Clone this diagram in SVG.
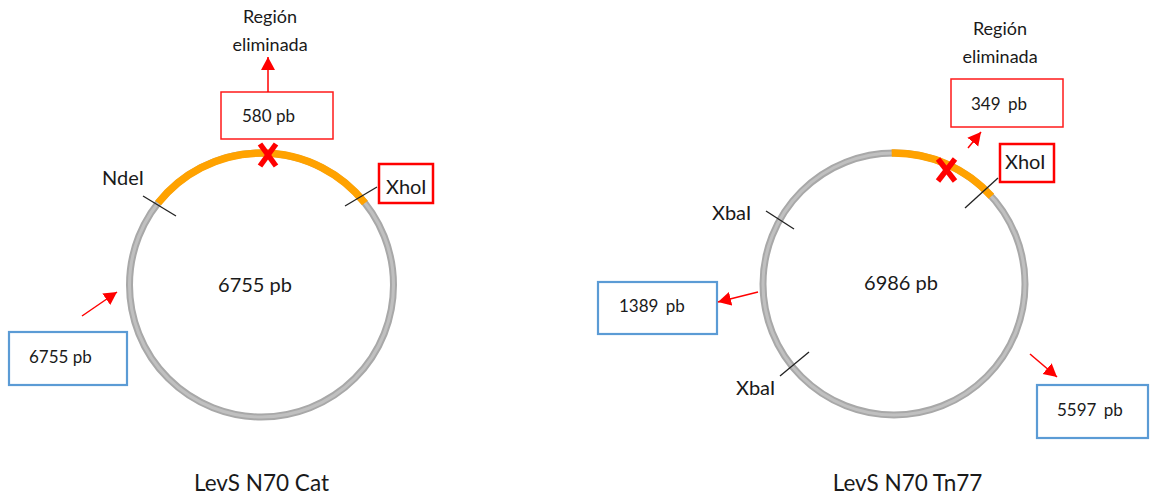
<svg xmlns="http://www.w3.org/2000/svg" width="1150" height="497" viewBox="0 0 1150 497">
<style>
text{font-family:Lato,"Liberation Sans",sans-serif;fill:#1a1a1a}
.ring{fill:none;stroke:#a8a8a8;stroke-width:7}
.ringhi{fill:none;stroke:#c0c0c0;stroke-width:3}
.orange{fill:none;stroke:#ffa200;stroke-width:7.5}
.tick{stroke:#222;stroke-width:1.3}
.cross{stroke:#ff0000;stroke-width:5.5;stroke-linecap:butt}
.rbox{fill:#fff;stroke:#ff1a1a;stroke-width:1.5}
.rbox2{fill:#fff;stroke:#ff0000;stroke-width:2.5}
.bbox{fill:#fff;stroke:#5b9bd5;stroke-width:2.2}
.arr{stroke:#ff0000;stroke-width:1.5;fill:none;marker-end:url(#ah)}
.lbl{font-size:17px}
.wide{word-spacing:3px}
.enz{font-size:20px}
.ctr{font-size:20px;text-anchor:middle}
.reg{font-size:18px;text-anchor:middle}
.ttl{font-size:22.5px;text-anchor:middle}
</style>
<defs>
<marker id="ah" markerUnits="userSpaceOnUse" markerWidth="16" markerHeight="16" refX="13" refY="7" orient="auto">
<path d="M0,0 L13,7 L0,14 Z" fill="#ff0000"/>
</marker>
</defs>
<g id="plasmid-cat">
<circle class="ring" cx="261.5" cy="285" r="132"/>
<circle class="ringhi" cx="261.5" cy="285" r="132"/>
<path class="orange" d="M158.1,203 A132,132 0 0 1 364.9,203"/>
<line class="tick" x1="143" y1="196" x2="176" y2="216"/>
<line class="tick" x1="345" y1="206" x2="377" y2="187"/>
<line class="cross" x1="260" y1="144" x2="276" y2="166"/>
<line class="cross" x1="276" y1="144" x2="260" y2="166"/>
<text class="ctr" x="255" y="292">6755 pb</text>
</g>
<g id="plasmid-tn77">
<circle class="ring" cx="894" cy="284" r="131"/>
<circle class="ringhi" cx="894" cy="284" r="131"/>
<path class="orange" d="M891.7,153 A131,131 0 0 1 991.4,196.3"/>
<line class="tick" x1="766" y1="211" x2="794" y2="229"/>
<line class="tick" x1="780" y1="376" x2="809" y2="352"/>
<line class="tick" x1="965" y1="208" x2="998" y2="178"/>
<line class="cross" x1="938" y1="159" x2="955" y2="181"/>
<line class="cross" x1="955" y1="159" x2="938" y2="181"/>
<text class="ctr" x="901" y="290">6986 pb</text>
</g>
<g id="label-ndei"><text class="enz" x="102" y="185">NdeI</text></g>
<g id="label-xhoi-cat"><rect class="rbox2" x="379" y="164" width="54" height="39"/><text class="enz" x="386" y="194">XhoI</text></g>
<g id="label-xbai-top"><text class="enz" x="712" y="220">XbaI</text></g>
<g id="label-xbai-bottom"><text class="enz" x="736" y="395">XbaI</text></g>
<g id="label-xhoi-tn77"><rect class="rbox2" x="1000" y="144" width="54" height="38"/><text class="enz" x="1005" y="169">XhoI</text></g>
<g id="box-580"><rect class="rbox" x="221" y="92" width="112" height="47"/><text class="lbl" x="242" y="122">580 pb</text></g>
<g id="box-349"><rect class="rbox" x="951" y="79" width="112" height="48"/><text class="lbl wide" x="971" y="110">349 pb</text></g>
<g id="box-6755"><rect class="bbox" x="9" y="332" width="118" height="53"/><text class="lbl" x="29" y="363">6755 pb</text></g>
<g id="box-1389"><rect class="bbox" x="598" y="282" width="119" height="52"/><text class="lbl wide" x="619" y="312">1389 pb</text></g>
<g id="box-5597"><rect class="bbox" x="1037" y="385" width="111" height="53"/><text class="lbl wide" x="1057" y="416">5597 pb</text></g>
<g id="region-cat"><text class="reg" x="270" y="23">Región</text><text class="reg" x="270" y="51">eliminada</text></g>
<g id="region-tn77"><text class="reg" x="1000" y="35">Región</text><text class="reg" x="1000" y="63">eliminada</text></g>
<g id="title-cat"><text class="ttl" x="261.5" y="491">LevS N70 Cat</text></g>
<g id="title-tn77"><text class="ttl" x="907.5" y="491">LevS N70 Tn77</text></g>
<g id="connectors">
<line class="arr" x1="268" y1="92" x2="268" y2="57"/>
<line class="arr" x1="82" y1="316" x2="117" y2="292"/>
<line class="arr" x1="968" y1="148" x2="981" y2="132"/>
<line class="arr" x1="758" y1="292" x2="718" y2="302"/>
<line class="arr" x1="1030" y1="354" x2="1057" y2="377"/>
</g>
</svg>
